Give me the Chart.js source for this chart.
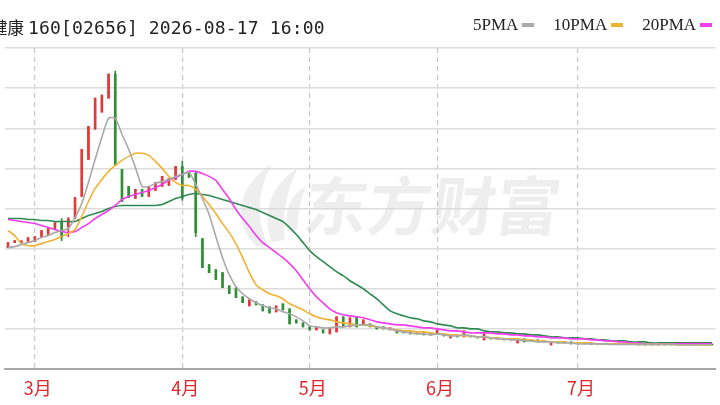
<!DOCTYPE html>
<html>
<head>
<meta charset="utf-8">
<script src="https://cdn.jsdelivr.net/npm/chart.js@4.4.1/dist/chart.umd.min.js"></script>
<style>
html,body{margin:0;padding:0;background:#fff;}
#wrap{position:relative;width:720px;height:405px;overflow:hidden;background:#fff;}
#wm{position:absolute;left:0;top:0;width:720px;height:405px;pointer-events:none;}
#wmText{position:absolute;left:305px;top:170px;font:bold 64px "Noto Sans CJK SC";color:rgba(0,0,0,0.065);transform:skewX(-8deg);white-space:nowrap;line-height:1;}
#wmLogo{position:absolute;left:228px;top:160px;}
canvas{position:absolute;left:0;top:0;}
#title{position:absolute;left:-9px;top:15px;white-space:nowrap;color:#222;line-height:26px;}
#title .cn{font:16.5px "Noto Sans CJK SC";}
#title .en{font:18px "DejaVu Sans Mono";letter-spacing:0.15px;margin-left:4px;}
#legend{position:absolute;left:473px;top:15px;display:flex;align-items:center;white-space:nowrap;line-height:26px;font:17px "Liberation Serif";color:#222;}
#legend .sw{display:inline-block;width:12px;height:4px;margin-left:4px;margin-right:19px;}
</style>
</head>
<body>
<div id="wrap">
  <div id="wm">
    <svg id="wmLogo" width="80" height="90" viewBox="0 0 80 90">
      <g fill="rgba(0,0,0,0.065)">
        <path d="M28 86 C4 62 8 26 44 4 C30 30 27 56 40 86 Z"/>
        <path d="M44 82 C34 56 40 26 70 8 C57 35 54 56 57 80 Z"/>
        <path d="M60 72 C56 52 61 36 78 26 C71 43 71 56 69 70 Z"/>
      </g>
    </svg>
    <div id="wmText">东方财富</div>
  </div>
  <canvas id="c" width="720" height="405"></canvas>
  <div id="title"><span class="cn">健康</span><span class="en">160[02656] 2026-08-17 16:00</span></div>
  <div id="legend"></div>
</div>
<script>
// ---- data ----
const dates = [
 "02-24","02-25","02-26","02-27",
 "03-02","03-03","03-04","03-05","03-06","03-09","03-10","03-11","03-12","03-13","03-16","03-17","03-18","03-19","03-20","03-23","03-24","03-25","03-26","03-27","03-30","03-31",
 "04-01","04-02","04-08","04-09","04-10","04-13","04-14","04-15","04-16","04-17","04-20","04-21","04-22","04-23","04-24","04-27","04-28","04-29","04-30",
 "05-04","05-05","05-06","05-07","05-08","05-11","05-12","05-13","05-14","05-15","05-18","05-19","05-20","05-21","05-22","05-26","05-27","05-28","05-29",
 "06-01","06-02","06-03","06-04","06-05","06-08","06-09","06-10","06-11","06-12","06-15","06-16","06-17","06-18","06-22","06-23","06-24","06-25","06-26","06-29","06-30",
 "07-02","07-03","07-06","07-07","07-08","07-09","07-10","07-13","07-14","07-15","07-16","07-17","07-20","07-21","07-22","07-23","07-24","07-27","07-28","07-29","07-30"
];
const monthLabels = {"03":"3月","04":"4月","05":"5月","06":"6月","07":"7月"};

const open = [12.1,12.6,12.6,12.6,12.7,13.2,13.4,14.0,14.7,14.2, 15.0,17.2,20.9,23.9,25.6,27.0,29.4,19.9,18.2,17.0, 17.9,17.2,17.8,18.2,18.3,18.9,20.2,19.7,19.5,13.0, 10.4,9.9,9.6,8.3,8.1,7.2,6.3,6.7,6.4,6.2, 5.7,6.5,6.0,4.9,4.6,4.2,3.9,3.9,3.5,3.7, 5.2,4.2,5.2,4.4,4.5,4.2,4.2,3.9,3.9,3.8, 3.7,3.6,3.6,3.6,3.5,3.5,3.1,3.3,3.2,3.3, 3.2,2.9,3.1,3.1,3.0,3.0,2.6,3.0,2.9,2.9, 2.8,2.4,2.7,2.7,2.7,2.6,2.6,2.55,2.45,2.55, 2.5,2.5,2.45,2.5,2.5,2.45,2.45,2.4,2.45,2.45, 2.45,2.45,2.4,2.45,2.45,2.45];
const high = [12.6,12.8,12.8,13.1,13.2,13.8,14.0,14.6,15.0,15.1, 17.1,21.9,24.2,27.0,27.3,29.4,29.7,19.9,18.2,17.9, 17.9,18.1,18.6,19.2,19.0,20.2,20.7,19.7,19.7,13.0, 10.4,9.9,9.6,8.3,8.1,7.2,6.9,6.7,6.4,6.2, 6.3,6.5,6.0,4.9,4.6,4.2,4.2,3.9,4.1,5.2, 5.2,5.1,5.2,4.9,4.5,4.2,4.2,4.1,3.9,3.8, 3.7,3.6,3.6,3.6,3.9,3.5,3.3,3.3,3.8,3.3, 3.2,3.6,3.1,3.1,3.0,3.0,2.9,3.0,2.9,2.9, 2.8,2.7,2.7,2.7,2.7,2.6,2.6,2.55,2.55,2.55, 2.5,2.5,2.5,2.5,2.5,2.45,2.45,2.45,2.45,2.45, 2.45,2.45,2.45,2.45,2.45,2.45];
const low = [12.1,12.6,12.6,12.6,12.7,13.2,13.4,14.0,12.8,13.2, 15.0,17.2,20.9,23.9,25.6,27.0,20.3,16.7,17.1,17.0, 17.2,17.2,17.8,18.2,18.3,18.9,16.8,19.1,13.2,10.1, 9.6,8.9,8.1,7.5,7.1,6.6,6.3,6.4,5.8,5.6, 5.7,5.9,4.5,4.6,4.2,3.9,3.9,3.6,3.5,3.7, 4.2,4.2,4.2,4.4,4.2,4.0,4.0,3.9,3.6,3.6, 3.5,3.5,3.4,3.4,3.5,3.3,3.1,3.2,3.2,3.2, 3.1,2.9,3.0,3.0,2.9,2.9,2.6,2.7,2.8,2.7, 2.7,2.4,2.6,2.6,2.5,2.5,2.5,2.45,2.45,2.45, 2.45,2.45,2.45,2.45,2.4,2.4,2.4,2.4,2.4,2.4, 2.4,2.4,2.4,2.4,2.4,2.4];
const close = [12.6,12.8,12.75,13.1,13.2,13.8,14.0,14.6,13.1,15.0, 17.1,21.9,24.2,27.0,27.3,29.4,20.3,16.7,17.1,17.9, 17.2,18.1,18.6,19.2,19.0,20.2,17.0,19.1,13.6,10.1, 9.6,8.9,8.1,7.5,7.1,6.6,6.9,6.4,5.8,5.6, 6.3,5.9,4.5,4.6,4.2,3.9,4.2,3.6,4.1,5.2, 4.2,5.1,4.2,4.9,4.2,4.0,4.0,4.1,3.6,3.6, 3.5,3.5,3.4,3.4,3.9,3.3,3.3,3.2,3.8,3.2, 3.1,3.6,3.0,3.0,2.9,2.9,2.9,2.7,2.8,2.7, 2.7,2.7,2.6,2.6,2.5,2.5,2.5,2.45,2.55,2.45, 2.45,2.45,2.5,2.45,2.4,2.4,2.4,2.45,2.4,2.4, 2.4,2.4,2.45,2.4,2.4,2.4];

const ma5 = [12.1,12.2,12.4,12.6,12.8,13.1,13.3,13.6,13.8,14.0, 15.1,16.5,18.6,20.9,23.1,25.0,25.0,23.4,21.9,20.1, 18.2,18.2,18.5,18.7,18.9,19.2,19.4,19.6,18.4,17.0, 15.4,13.2,11.1,9.4,8.2,7.5,7.0,6.6,6.3,6.1, 6.0,5.7,5.5,5.2,4.8,4.3,4.2,4.1,4.1,4.2, 4.2,4.3,4.4,4.4,4.4,4.2,4.1,4.0,3.8,3.7, 3.6,3.5,3.5,3.4,3.5,3.4,3.3,3.3,3.4,3.3, 3.2,3.2,3.1,3.0,3.0,2.9,2.9,2.8,2.8,2.7, 2.7,2.7,2.6,2.6,2.6,2.5,2.5,2.5,2.5,2.5, 2.45,2.45,2.45,2.45,2.45,2.45,2.45,2.45,2.45,2.45, 2.42,2.42,2.42,2.42,2.42,2.42];
const ma10 = [13.8,13.3,12.5,12.3,12.3,12.5,12.7,12.9,13.2,13.5, 13.9,15.2,16.7,18.0,18.9,19.7,20.3,20.8,21.2,21.5, 21.5,21.3,20.7,20.0,19.2,18.6,18.3,18.3,17.9,17.2, 16.4,15.5,14.5,13.6,12.5,11.1,9.6,8.4,7.9,7.5, 7.3,7.0,6.5,6.2,5.9,5.5,5.2,5.0,4.9,4.7, 4.6,4.5,4.4,4.4,4.3,4.2,4.1,4.0,3.9,3.8, 3.8,3.7,3.7,3.6,3.5,3.5,3.4,3.4,3.3,3.3, 3.2,3.2,3.1,3.1,3.0,3.0,3.0,2.9,2.9,2.8, 2.8,2.7,2.7,2.7,2.6,2.6,2.6,2.6,2.5,2.5, 2.5,2.5,2.5,2.5,2.45,2.45,2.45,2.45,2.45,2.45, 2.4,2.4,2.4,2.4,2.4,2.4];
const ma20 = [14.9,14.8,14.7,14.6,14.5,14.3,14.1,13.9,13.7,13.6, 13.7,14.1,14.5,15.0,15.4,15.8,16.3,16.9,17.2,17.4, 17.6,17.8,18.1,18.4,18.8,19.1,19.4,19.7,19.7,19.5, 19.2,18.8,17.9,17.0,15.9,15.0,14.2,13.3,12.6,12.1, 11.6,11.1,10.5,9.8,8.9,8.0,7.2,6.6,6.0,5.6, 5.4,5.3,5.2,5.1,4.9,4.7,4.6,4.5,4.4,4.4, 4.3,4.2,4.1,4.1,4.0,3.9,3.8,3.8,3.7,3.6, 3.6,3.6,3.6,3.5,3.5,3.4,3.4,3.3,3.3,3.2, 3.2,3.1,3.1,3.1,3.0,3.0,3.0,2.9,2.9,2.8, 2.8,2.7,2.7,2.6,2.6,2.5,2.5,2.5,2.5,2.5, 2.5,2.5,2.5,2.5,2.5,2.5];
const ma30 = [15.0,15.0,15.0,14.9,14.9,14.8,14.8,14.7,14.7,14.7, 14.7,15.0,15.3,15.5,15.7,16.0,16.2,16.3,16.3,16.3, 16.3,16.3,16.3,16.4,16.7,17.0,17.2,17.4,17.5,17.4, 17.3,17.1,16.9,16.7,16.5,16.3,16.1,15.9,15.6,15.3, 15.0,14.7,14.1,13.4,12.6,11.8,11.2,10.7,10.2,9.7, 9.3,8.8,8.4,8.0,7.5,7.0,6.4,5.8,5.5,5.3, 5.1,5.0,4.8,4.7,4.5,4.4,4.3,4.1,4.1,4.0, 4.0,3.8,3.7,3.7,3.6,3.6,3.5,3.5,3.4,3.4, 3.3,3.2,3.2,3.1,3.1,3.1,3.0,3.0,2.9,2.9, 2.8,2.8,2.8,2.7,2.7,2.7,2.6,2.6,2.6,2.6, 2.6,2.6,2.6,2.6,2.6,2.6];

const maNames = ["5PMA","10PMA","20PMA","30PMA"];
const maColors = ["#a9a9a9","#f0b232","#f23cf0","#2f8a52"];
const upColor = "#e33838", downColor = "#2f8f34";

// ---- helpers ----
const isUp = i => close[i] >= open[i];
const candleColor = ctx => isUp(ctx.dataIndex) ? upColor : downColor;
const monthOf = i => dates[i].slice(0,2);
const isMonthStart = i => i > 0 && i < dates.length && monthOf(i) !== monthOf(i-1);

// legend (text first, swatch after)
const lg = document.getElementById('legend');
maNames.forEach((n, k) => {
  const t = document.createElement('span'); t.textContent = n; lg.appendChild(t);
  const s = document.createElement('span'); s.className = 'sw'; s.style.background = maColors[k]; lg.appendChild(s);
});

const maData = [ma5, ma10, ma20, ma30];
const lineSets = maData.map((d, k) => ({
  type: 'line', label: maNames[k], data: d, borderColor: maColors[k], borderWidth: 1.6,
  pointRadius: 0, tension: 0.2, fill: false, order: k
}));

new Chart(document.getElementById('c'), {
  type: 'bar',
  data: {
    labels: dates,
    datasets: [
      ...lineSets,
      { label: 'body', data: dates.map((_, i) => [Math.min(open[i], close[i]), Math.max(open[i], close[i])]),
        backgroundColor: candleColor, barThickness: 2, grouped: false, order: 10, borderWidth: 0, minBarLength: 1 },
      { label: 'wick', data: dates.map((_, i) => [low[i], high[i]]),
        backgroundColor: candleColor, barThickness: 1, grouped: false, order: 11, borderWidth: 0 }
    ]
  },
  options: {
    responsive: false, animation: false,
    layout: { padding: { top: 48, bottom: 0, left: 0, right: 0 } },
    plugins: { legend: { display: false }, tooltip: { enabled: false } },
    scales: {
      x: {
        offset: true,
        afterFit: s => { s.height = 36; },
        grid: { offset: false, drawTicks: false, lineWidth: 1.2,
                color: ctx => isMonthStart(ctx.index) ? '#c6c6c6' : 'rgba(0,0,0,0)' },
        border: { display: true, color: '#a8a8a8', width: 2, dash: [5, 4] },
        ticks: { autoSkip: false, maxRotation: 0, padding: 8, labelOffset: 3, color: '#e0262a',
                 font: { size: 18, family: '"Noto Sans CJK SC"' },
                 callback: (v, i) => isMonthStart(i) ? monthLabels[monthOf(i)] : '' }
      },
      y: {
        min: 0, max: 32,
        ticks: { display: false, stepSize: 4 },
        grid: { color: '#dcdcdc', lineWidth: 1.5, drawTicks: false },
        border: { display: false }
      }
    }
  }
});
</script>
</body>
</html>
